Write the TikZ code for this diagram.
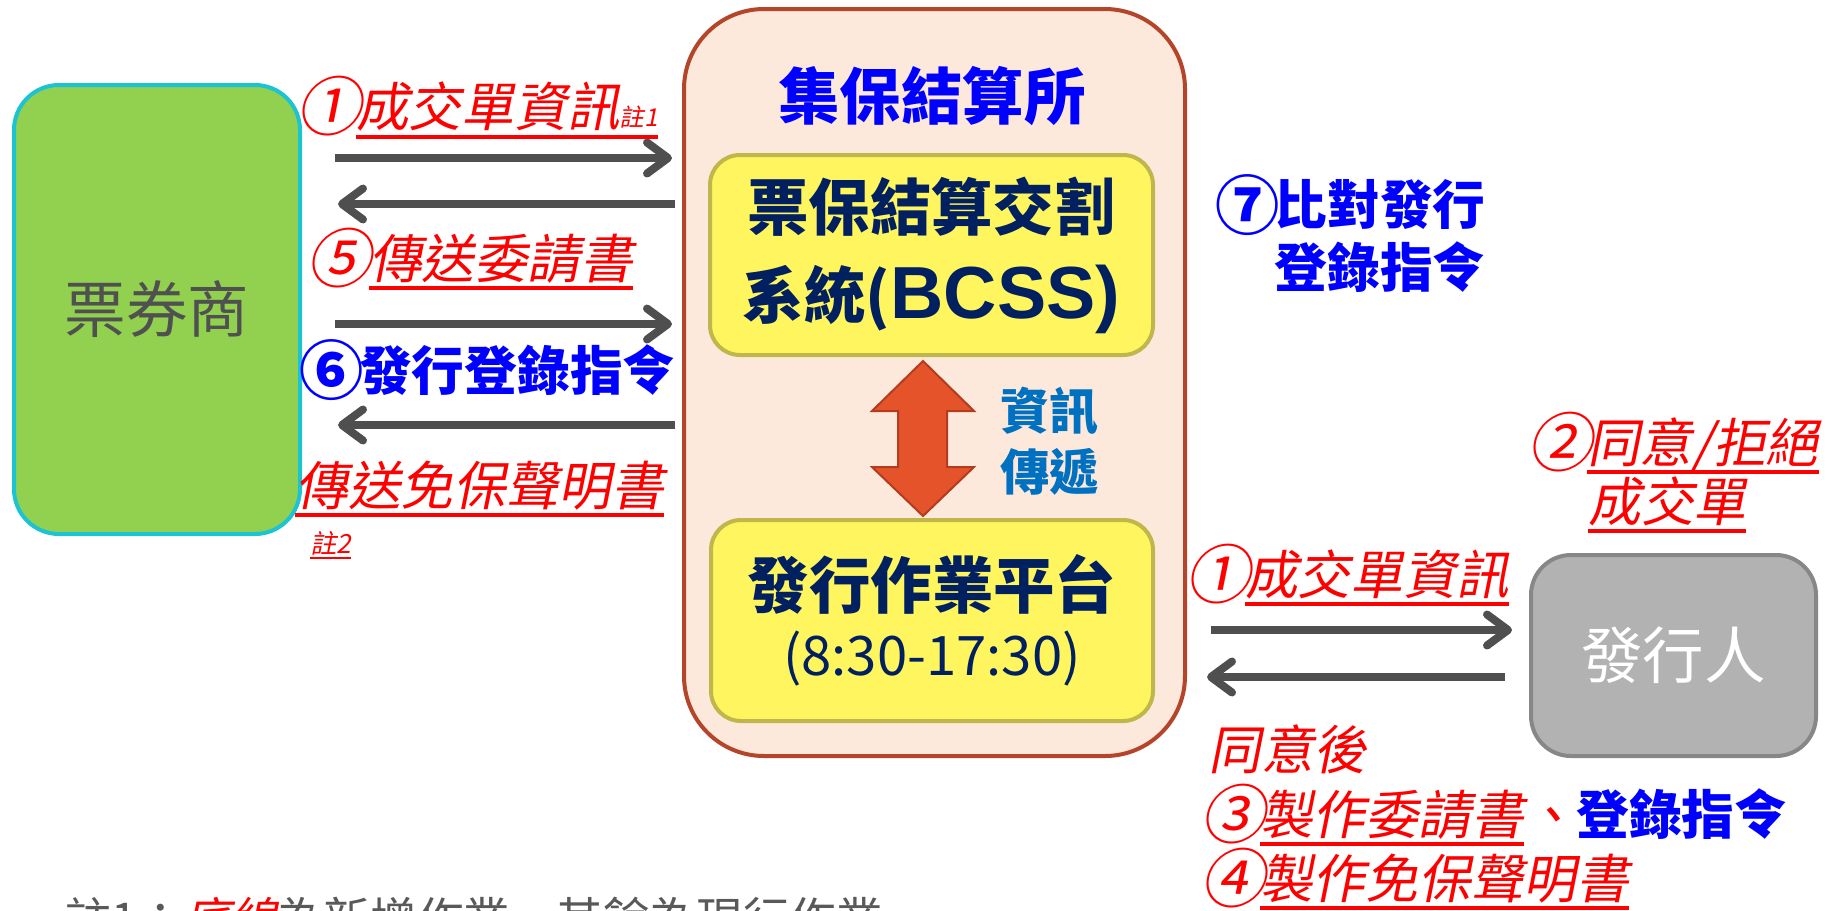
\documentclass[tikz,border=0pt]{standalone}
\usepackage{fontspec}
\setmainfont{Noto Sans CJK TC}
\newfontfamily\cjk{Noto Sans CJK TC}
\newfontfamily\cjkit[FakeSlant=0.2]{Noto Sans CJK TC}
\newfontfamily\latb{Liberation Sans}
\usetikzlibrary{arrows.meta}
\newlength\upx
\setlength\upx{0.02cm}
\newcommand\redul[1]{\setbox0=\hbox{#1}\rlap{\rule[-0.225em]{\wd0}{0.075em}}\box0}
\newcommand\cn[1]{\makebox[1.04em]{\raisebox{-0.08em}{\scalebox{1.22}{#1}}}}
\newcommand\fsL{\fontsize{30}{36}\selectfont}
\newcommand\fsT{\fontsize{35}{42}\selectfont}
\definecolor{brokerfill}{HTML}{92D050}
\definecolor{brokerline}{HTML}{1CC3D2}
\definecolor{csdfill}{HTML}{FDE9DC}
\definecolor{csdline}{HTML}{B5452A}
\definecolor{yfill}{HTML}{FFF55F}
\definecolor{yline}{HTML}{BFB74B}
\definecolor{navy}{HTML}{002060}
\definecolor{issfill}{HTML}{B2B2B2}
\definecolor{issline}{HTML}{878787}
\definecolor{arrgray}{HTML}{4F4F4F}
\definecolor{orng}{HTML}{E4532A}
\definecolor{orngline}{HTML}{B33C1E}
\definecolor{infoblue}{HTML}{0070C0}
\definecolor{notegray}{HTML}{595959}
\definecolor{txtgray}{HTML}{505050}
\begin{document}
\begin{tikzpicture}[x=0.02cm,y=-0.02cm,
  lbl/.style={anchor=west, inner sep=0pt, text=red, font=\cjkit\fsL},
  blbl/.style={anchor=west, inner sep=0pt, text=blue, font=\cjk\bfseries\fsL},
  rbox/.style={draw, line width=4\upx, inner sep=0pt},
  ybox/.style={rbox, draw=yline, fill=yfill, rounded corners=0.6cm, text=navy, align=center},
  garrow/.style={draw=arrgray, line width=0.16cm, -{Straight Barb[round, length=0.42cm, width=0.62cm]}}
]
\useasboundingbox (0,0) rectangle (1847,910);
\fill[white] (0,0) rectangle (1847,910);

% boxes
\node[rbox, draw=brokerline, fill=brokerfill, rounded corners=0.9cm,
      minimum width=286\upx, minimum height=449\upx, text=txtgray, font=\cjk\fsT] (broker) at (157,309.5) {票券商};
\node[rbox, draw=csdline, fill=csdfill, rounded corners=1.6cm,
      minimum width=501\upx, minimum height=747\upx] (csd) at (934.5,382.5) {};
\node[inner sep=0pt, text=blue, font=\cjk\bfseries\fsT] (csdtitle) at (932,96) {集保結算所};
\node[ybox, minimum width=443\upx, minimum height=200\upx, font=\cjk\bfseries\fontsize{35}{50}\selectfont] (bcss) at (931.5,255)
  {票保結算交割\\系統({\latb\bfseries\fontsize{42}{50}\selectfont BCSS)}};
\node[ybox, minimum width=442\upx, minimum height=201\upx, font=\cjk\bfseries\fontsize{35}{38}\selectfont] (plat) at (932,620.5)
  {發行作業平台\\{\mdseries\fontsize{31}{38}\selectfont (8:30-17:30)}};
\node[rbox, draw=issline, fill=issfill, rounded corners=0.8cm,
      minimum width=285\upx, minimum height=201\upx, text=white, font=\cjk\fsT] (issuer) at (1673.5,655.5) {發行人};

% double arrow between BCSS and platform
\filldraw[fill=orng, draw=orngline, line width=2\upx, line join=miter]
  (923,361) -- (974,411) -- (947,411) -- (947,467) -- (974,467) -- (923,516)
  -- (872,467) -- (898,467) -- (898,411) -- (872,411) -- cycle;
\node[anchor=west, inner sep=0pt, align=left, text=infoblue, font=\cjk\bfseries\fontsize{28}{35}\selectfont] (info) at (1000,441) {資訊\\傳遞};

% arrow end points
\coordinate (a1s) at (335,158);  \coordinate (a1e) at (672,158);
\coordinate (a2s) at (675,204);  \coordinate (a2e) at (338,204);
\coordinate (a3s) at (335,324);  \coordinate (a3e) at (672,324);
\coordinate (a4s) at (675,425);  \coordinate (a4e) at (338,425);
\coordinate (a5s) at (1211,630); \coordinate (a5e) at (1512,630);
\coordinate (a6s) at (1505,677); \coordinate (a6e) at (1207,677);
\draw[garrow] (a1s) -- (a1e);
\draw[garrow] (a2s) -- (a2e);
\draw[garrow] (a3s) -- (a3e);
\draw[garrow] (a4s) -- (a4e);
\draw[garrow] (a5s) -- (a5e);
\draw[garrow] (a6s) -- (a6e);

% left labels
\node[lbl] (l1) at (301,107.5) {\cn{①}\redul{成交單資訊{\fontsize{14}{16}\selectfont 註1}}};
\node[lbl] (l2) at (311,259) {\cn{⑤}\kern3\upx\redul{傳送委請書}};
\node[blbl] (l3) at (304,370) {\cn{⑥}發行登錄指令};
\node[lbl] (l4) at (295,489) {\redul{傳送免保聲明書}};
\node[lbl, font=\cjkit\fontsize{15}{18}\selectfont] (l5) at (310,545) {\redul{註2}};

% right labels
\node[anchor=east, inner sep=0pt, align=right, text=blue, font=\cjk\bfseries\fontsize{30}{35.7}\selectfont] (r1) at (1486,233.5) {\cn{⑦}比對發行\\登錄指令};
\node[lbl] (r2) at (1532,443) {\cn{②}\redul{同意/拒絕}};
\node[lbl] (r3) at (1588,505) {\redul{成交單}};
\node[lbl] (r4) at (1190,575) {\cn{①}\redul{成交單資訊}};
\node[lbl] (r5) at (1208,749) {同意後};
\node[lbl] (r6) at (1205,815) {\cn{③}\redul{製作委請書}、{\cjk\bfseries\color{blue}登錄指令}};
\node[lbl] (r7) at (1205,879) {\cn{④}\redul{製作免保聲明書}};

% footnote (cut by the lower edge)
\node[anchor=west, inner sep=0pt, text=notegray, font=\cjk\fontsize{26.5}{30}\selectfont] (note) at (65,919)
  {註1：{\cjkit\color{red}底線}為新增作業，其餘為現行作業};
\end{tikzpicture}
\end{document}
